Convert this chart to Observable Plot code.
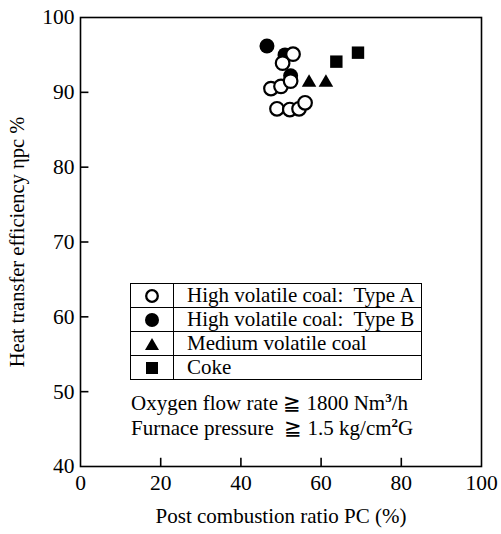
<!DOCTYPE html>
<html><head><meta charset="utf-8">
<script src="https://cdn.jsdelivr.net/npm/d3@7"></script>
<script src="https://cdn.jsdelivr.net/npm/@observablehq/plot@0.6"></script>
<style>
body{margin:0;background:#fff;}
#wrap{position:relative;width:501px;height:534px;font-family:"Liberation Serif","Times New Roman",serif;color:#000;}
#wrap svg, #wrap svg text{font-family:"Liberation Serif","Times New Roman",serif !important;}
#legend{position:absolute;left:130px;top:283px;border-collapse:collapse;font-size:21px;background:#fff;}
#legend td{border:1.5px solid #000;height:23px;padding:0;line-height:23px;}
#legend td.sym{width:42px;text-align:center;}
#legend td.sym svg{display:block;margin:auto;}
#legend td.lab{padding-left:13px;padding-right:7px;white-space:nowrap;}
.note{position:absolute;left:131px;font-size:21px;white-space:nowrap;}
.note sup{font-size:13px;font-weight:bold;vertical-align:8px;line-height:0;}
</style></head><body><div id="wrap"></div>
<script>
// Data
const typeA_pc  = [47.5, 50.0, 52.4, 49.0, 52.2, 54.5, 56.0, 50.4, 53.0];
const typeA_eff = [90.5, 90.8, 91.5, 87.8, 87.7, 87.8, 88.6, 93.9, 95.1];
const typeB_pc  = [46.5, 51.0, 52.4];
const typeB_eff = [96.2, 95.0, 92.2];
const medium_pc  = [57.0, 61.2];
const medium_eff = [91.3, 91.3];
const coke_pc  = [63.8, 69.2];
const coke_eff = [94.1, 95.3];
const xTicks = [0, 20, 40, 60, 80, 100];
const yTicks = [40, 50, 60, 70, 80, 90, 100];
const seriesLabels = ["High volatile coal:  Type A", "High volatile coal:  Type B", "Medium volatile coal", "Coke"];
const xTitle = "Post combustion ratio PC (%)";
const yTitle = "Heat transfer efficiency ηpc %";
const notes = ["Oxygen flow rate ≧ 1800 Nm<sup>3</sup>/h", "Furnace pressure &nbsp;≧ 1.5 kg/cm<sup>2</sup>G"];

const toRows = (xs, ys) => xs.map((x, i) => ({pc: x, eff: ys[i]}));
const A = toRows(typeA_pc, typeA_eff);
const B = toRows(typeB_pc, typeB_eff);
const M = toRows(medium_pc, medium_eff);
const C = toRows(coke_pc, coke_eff);

const chart = Plot.plot({
  width: 501, height: 534,
  marginLeft: 80, marginRight: 20, marginTop: 17, marginBottom: 68,
  style: {fontFamily: "'Liberation Serif','Times New Roman',serif", fontSize: "21px", background: "#fff", color: "#000"},
  x: {domain: [0, 100]},
  y: {domain: [40, 100]},
  marks: [
    Plot.frame({stroke: "#000", strokeWidth: 1.6}),
    Plot.ruleX(xTicks.slice(1, -1), {x: d => d, y1: 40, y2: 41.1, stroke: "#000", strokeWidth: 1.6}),
    Plot.ruleY(yTicks.slice(1, -1), {y: d => d, x1: 0, x2: 2.1, stroke: "#000", strokeWidth: 1.6}),
    Plot.axisX(xTicks, {tickSize: 0, tickPadding: 8, fontSize: 21.5, label: null}),
    Plot.axisY(yTicks, {tickSize: 0, tickPadding: 6, fontSize: 21.5, label: null}),
    Plot.text([xTitle], {frameAnchor: "bottom", dy: 56, fontSize: 21, text: d => d}),
    Plot.text([yTitle], {frameAnchor: "left", textAnchor: "middle", dx: -63, rotate: -90, fontSize: 20.5, text: d => d}),
    Plot.dot(B, {x: "pc", y: "eff", r: 7.5, fill: "#000", stroke: "none"}),
    Plot.dot(A, {x: "pc", y: "eff", r: 6.8, fill: "#fff", stroke: "#000", strokeWidth: 2.2}),
    Plot.dot(M, {x: "pc", y: "eff", symbol: "triangle", r: 5.4, fill: "#000", stroke: "none"}),
    Plot.dot(C, {x: "pc", y: "eff", symbol: "square", r: 7.0, fill: "#000", stroke: "none"})
  ]
});
const wrap = document.getElementById("wrap");
wrap.appendChild(chart);

// legend table
const symSvg = [
  '<svg width="16" height="16"><circle cx="8" cy="8" r="5.8" fill="#fff" stroke="#000" stroke-width="2.3"/></svg>',
  '<svg width="16" height="16"><circle cx="8" cy="8" r="7" fill="#000"/></svg>',
  '<svg width="16" height="16"><path d="M8 2 L15 14 L1 14 Z" fill="#000"/></svg>',
  '<svg width="16" height="16"><rect x="2" y="2" width="12" height="12" fill="#000"/></svg>'
];
const tbl = document.createElement("table");
tbl.id = "legend";
tbl.innerHTML = seriesLabels.map((l, i) => `<tr><td class="sym">${symSvg[i]}</td><td class="lab">${l.replace(/  /g, "&nbsp; ")}</td></tr>`).join("");
wrap.appendChild(tbl);

notes.forEach((n, i) => {
  const d = document.createElement("div");
  d.className = "note";
  d.style.top = (391 + i * 25) + "px";
  d.innerHTML = n;
  wrap.appendChild(d);
});
</script>
</body></html>
